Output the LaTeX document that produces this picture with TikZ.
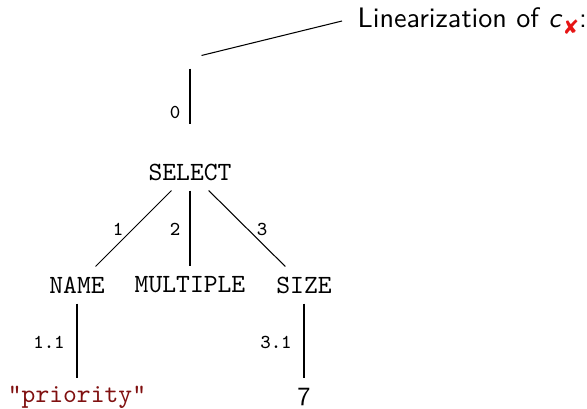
\documentclass[tikz,border=0pt]{standalone}
\usepackage{fontspec}
\newfontfamily\symfont{DejaVu Sans}
\definecolor{strred}{RGB}{128,16,16}
\definecolor{markred}{RGB}{230,20,20}
\begin{document}
\begin{tikzpicture}[x=0.38pt,y=-0.38pt,
  treenode/.style={font=\ttfamily, minimum height=13.68pt, minimum width=13.68pt, inner sep=0pt},
  edgelabel/.style={font=\ttfamily\fontsize{7.5}{9}\selectfont, inner sep=0pt},
  link/.style={draw, line width=0.4pt}]
\useasboundingbox (0,0) rectangle (587,409);

% root and its caption
\node[minimum width=8.36pt, minimum height=4.56pt, inner sep=0pt] (root) at (190,62) {};
\node[anchor=west, inner sep=5.7pt, font=\sffamily\fontsize{10.7}{13}\selectfont] (lin) at (342,21)
  {Linearization of \textit{c}\raisebox{-0.5ex}{\symfont\fontsize{7.5}{9}\selectfont\color{markred}✘}:};

% tree nodes
\node[treenode] (select) at (190,172) {SELECT};
\node[treenode] (name) at (77,285) {NAME};
\node[treenode] (mult) at (190,285) {MULTIPLE};
\node[treenode] (size) at (304,285) {SIZE};
\node[treenode, text=strred] (prio) at (77,397) {"priority"};
\node[treenode, font=\sffamily] (seven) at (304,397) {7};

% connectors
\draw[link] (root.north east) -- (lin.west);
\draw[link, shorten >=11.02pt] (root.south) -- (select.north);
\draw[link] (select) -- (name);
\draw[link] (select) -- (mult);
\draw[link] (select) -- (size);
\draw[link] (name) -- (prio);
\draw[link] (size) -- (seven);

% edge labels
\node[edgelabel] (l0) at (175,112) {0};
\node[edgelabel] (l1) at (118,229) {1};
\node[edgelabel] (l2) at (175,229) {2};
\node[edgelabel] (l3) at (262,229) {3};
\node[edgelabel] (l11) at (49,342) {1.1};
\node[edgelabel] (l31) at (276,342) {3.1};
\end{tikzpicture}
\end{document}
